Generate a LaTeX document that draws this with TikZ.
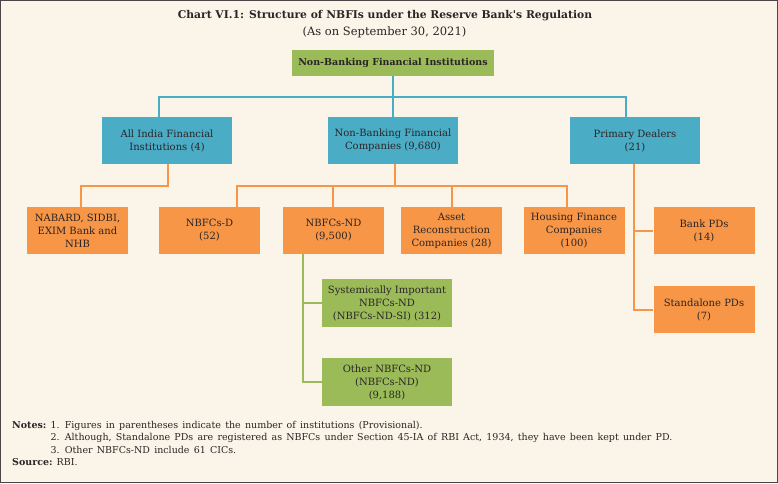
\documentclass[tikz,border=0pt]{standalone}
\usepackage{fontspec}
\setmainfont{DejaVu Serif}
\newfontfamily\nodefont{DejaVu Serif}
\definecolor{bgc}{HTML}{FBF4E8}
\definecolor{nbblue}{HTML}{4BACC6}
\definecolor{nborange}{HTML}{F79646}
\definecolor{nbgreen}{HTML}{9BBB59}
\definecolor{txt}{HTML}{2A2526}
\begin{document}
\begin{tikzpicture}[x=1pt,y=-1pt,
  box/.style={rectangle, inner sep=0pt, align=center, text=txt, font=\nodefont\fontsize{10}{13}\selectfont},
  bbox/.style={box, fill=nbblue, minimum width=130pt, minimum height=47pt},
  obox/.style={box, fill=nborange, minimum width=101pt, minimum height=47pt},
  gbox/.style={box, fill=nbgreen, minimum width=130pt, minimum height=48pt},
  bline/.style={draw=nbblue, line width=2.3pt},
  oline/.style={draw=nborange, line width=2pt},
  gline/.style={draw=nbgreen, line width=2pt},
  note/.style={anchor=base west, inner sep=0pt, text=txt, font=\nodefont\fontsize{9.5}{12}\selectfont}]
\fill[bgc] (0,0) rectangle (778,483);
\draw[txt!85, line width=1.2pt] (0.8,0.8) rectangle (777.2,482.2);
\useasboundingbox (0,0) rectangle (778,483);

\node[inner sep=0pt, text=txt, font=\nodefont\bfseries\fontsize{10.75}{13}\selectfont] (title) at (385,16) {Chart VI.1: Structure of NBFIs under the Reserve Bank's Regulation};
\node[inner sep=0pt, text=txt, font=\nodefont\fontsize{11.5}{13}\selectfont] (sub) at (384.5,32) {(As on September 30, 2021)};

\node[box, fill=nbgreen, minimum width=202pt, minimum height=26pt, font=\nodefont\bfseries\fontsize{9.5}{12}\selectfont] (top) at (393,63) {Non-Banking Financial Institutions};

\node[bbox] (aifi) at (167,140.5) {All India Financial\\Institutions (4)};
\node[bbox] (nbfc) at (393,140.5) {Non-Banking Financial\\Companies (9,680)};
\node[bbox] (pd) at (635,140.5) {Primary Dealers\\(21)};

\node[obox] (nabard) at (77.5,230.5) {NABARD, SIDBI,\\EXIM Bank and\\NHB};
\node[obox] (nbfcd) at (209.5,230.5) {NBFCs-D\\(52)};
\node[obox] (nbfcnd) at (333.5,230.5) {NBFCs-ND\\(9,500)};
\node[obox] (arc) at (451.5,230.5) {Asset\\Reconstruction\\Companies (28)};
\node[obox] (hfc) at (574,230.5) {Housing Finance\\Companies\\(100)};
\node[obox] (bpd) at (704,230.5) {Bank PDs\\(14)};
\node[obox] (spd) at (704,309.5) {Standalone PDs\\(7)};

\node[gbox] (si) at (387,303) {Systemically Important\\NBFCs-ND\\(NBFCs-ND-SI) (312)};
\node[gbox] (oth) at (387,382) {Other NBFCs-ND\\(NBFCs-ND)\\(9,188)};

% blue connectors
\coordinate (bh) at (393,97);
\coordinate (bl) at (159,97);
\coordinate (br) at (626,97);
\draw[bline] (top.south) -- (bh);
\draw[bline] (aifi.north -| bl) -- (bl) -- (br) -- (pd.north -| br);
\draw[bline] (bh) -- (nbfc.north -| bh);

% orange connectors
\coordinate (oa1) at (168,186);
\coordinate (oa2) at (81,186);
\draw[oline] (aifi.south -| oa1) -- (oa1) -- (oa2) -- (nabard.north -| oa2);
\coordinate (ob) at (395,186);
\coordinate (obl) at (237,186);
\coordinate (obr) at (567,186);
\coordinate (ob2) at (333,186);
\coordinate (ob3) at (452,186);
\draw[oline] (nbfc.south -| ob) -- (ob);
\draw[oline] (nbfcd.north -| obl) -- (obl) -- (obr) -- (hfc.north -| obr);
\draw[oline] (ob2) -- (nbfcnd.north -| ob2);
\draw[oline] (ob3) -- (arc.north -| ob3);
\coordinate (pv) at (634,200);
\draw[oline] (pd.south -| pv) -- (pv |- spd.west) -- (spd.west);
\draw[oline] (pv |- bpd.west) -- (bpd.west);

% green connectors
\coordinate (gv) at (303,300);
\draw[gline] (nbfcnd.south -| gv) -- (gv |- oth.west) -- (oth.west);
\draw[gline] (gv |- si.west) -- (si.west);

% notes
\node[note] (n1) at (12,428) {\textbf{Notes:} \spaceskip=4.2pt 1. Figures in parentheses indicate the number of institutions (Provisional).};
\node[note] (n2) at (12,440.5) {\hphantom{\textbf{Notes:} }\spaceskip=4.2pt 2. Although, Standalone PDs are registered as NBFCs under Section 45-IA of RBI Act, 1934, they have been kept under PD.};
\node[note] (n3) at (12,453) {\hphantom{\textbf{Notes:} }\spaceskip=4.2pt 3. Other NBFCs-ND include 61 CICs.};
\node[note] (src) at (12,465.5) {\textbf{Source:} RBI.};
\end{tikzpicture}
\end{document}
